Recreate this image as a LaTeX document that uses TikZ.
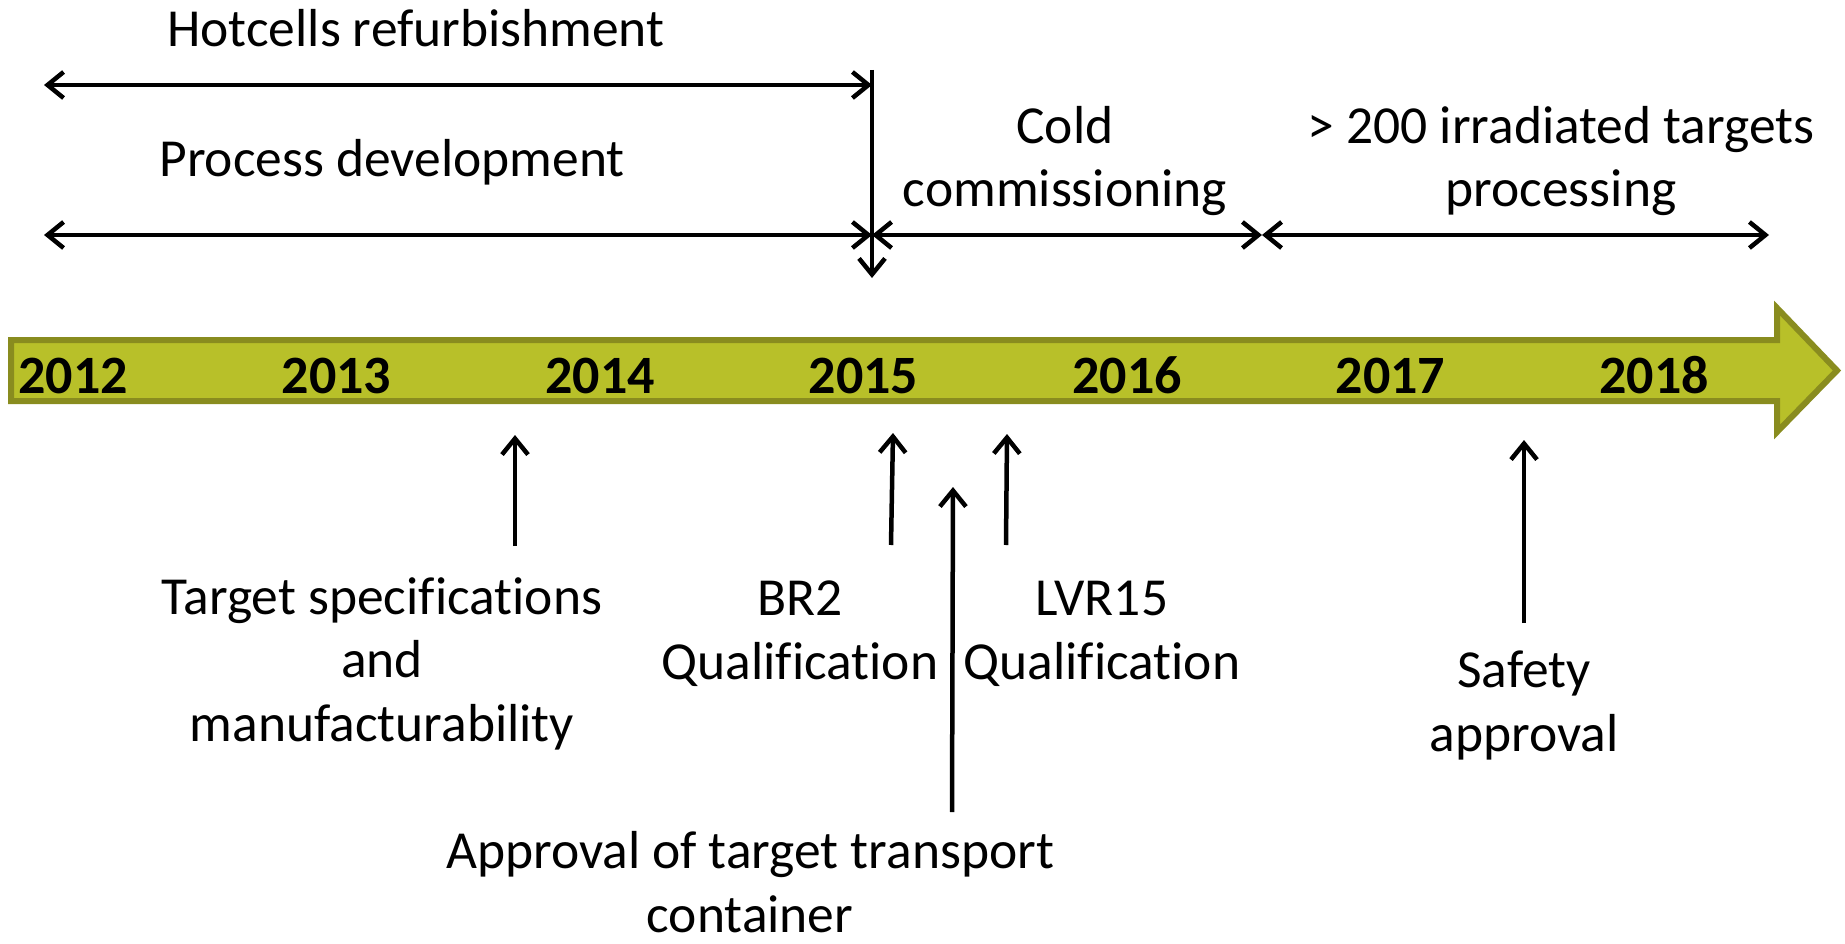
\documentclass[tikz,border=0pt]{standalone}
\usepackage{fontspec}
\setmainfont{Carlito}[Ligatures=NoCommon]
\usetikzlibrary{arrows.meta}

\definecolor{barfill}{RGB}{184,192,41}
\definecolor{barline}{RGB}{137,140,31}

\tikzset{
  span/.style={line width=4.5pt, {Straight Barb[length=16pt,width=26pt]}-{Straight Barb[length=16pt,width=26pt]}},
  uparrow/.style={line width=4.5pt, -{Straight Barb[length=16pt,width=26pt]}},
  label/.style={inner sep=0pt, anchor=base, align=center, font=\fontsize{53.5}{63.5}\selectfont},
  year/.style={inner sep=0pt, anchor=base, font=\fontsize{54}{60}\selectfont\bfseries},
}

\begin{document}
\begin{tikzpicture}[x=1pt, y=-1pt]
\useasboundingbox (0,0) rectangle (1845,944);

% time axis: thick block arrow
\draw[line width=6pt, fill=barfill, draw=barline, line join=miter]
  (11,340) -- (1777,340) -- (1777,308) -- (1837,370.5) -- (1777,432) -- (1777,401) -- (11,401) -- cycle;

\foreach \yr [count=\i from 0] in {2012,2013,2014,2015,2016,2017,2018}
  \node[year] (y\yr) at (73+263.5*\i,393) {\yr};

% phase spans above the axis
\coordinate (hcL) at (44,85);
\coordinate (hcR) at (872,85);
\coordinate (pdL) at (44,235);
\coordinate (pdR) at (872,235);
\coordinate (ccR) at (1262,235);
\coordinate (ipR) at (1769,235);
\coordinate (mTop) at (872,70);
\coordinate (mBot) at (872,278);

\draw[span] (hcL) -- (hcR);
\draw[span] (pdL) -- (pdR);
\draw[span] (pdR) -- (ccR);
\draw[span] (ccR) -- (ipR);
\draw[uparrow] (mTop) -- (mBot);

% multi-line labels are placed by the baseline of their last line
\node[label] (hot) at (416,47) {Hotcells refurbishment};
\node[label] (proc) at (392,177) {Process development};
\node[label] (cold) at (1065,207) {Cold\\commissioning};
\node[label] (irr) at (1561,207) {> 200 irradiated targets\\processing};

% milestones below the axis
\node[label] (spec) at (382,741) {Target specifications\\and\\manufacturability};
\node[label] (br2) at (800,679) {BR2\\Qualification};
\node[label] (lvr) at (1102,679) {LVR15\\Qualification};
\node[label] (cont) at (750,932) {Approval of target transport\\container};
\node[label] (safe) at (1524,751) {Safety\\approval};

\coordinate (specB) at (515,546);  \coordinate (specT) at (515,435);
\coordinate (br2B) at (891,545);   \coordinate (br2T) at (893,433);
\coordinate (contB) at (952,812);  \coordinate (contT) at (953,487);
\coordinate (lvrB) at (1006,545);  \coordinate (lvrT) at (1007,434);
\coordinate (safeB) at (1524,623); \coordinate (safeT) at (1524,440);

\draw[uparrow] (specB) -- (specT);
\draw[uparrow] (br2B) -- (br2T);
\draw[uparrow] (contB) -- (contT);
\draw[uparrow] (lvrB) -- (lvrT);
\draw[uparrow] (safeB) -- (safeT);
\end{tikzpicture}
\end{document}
